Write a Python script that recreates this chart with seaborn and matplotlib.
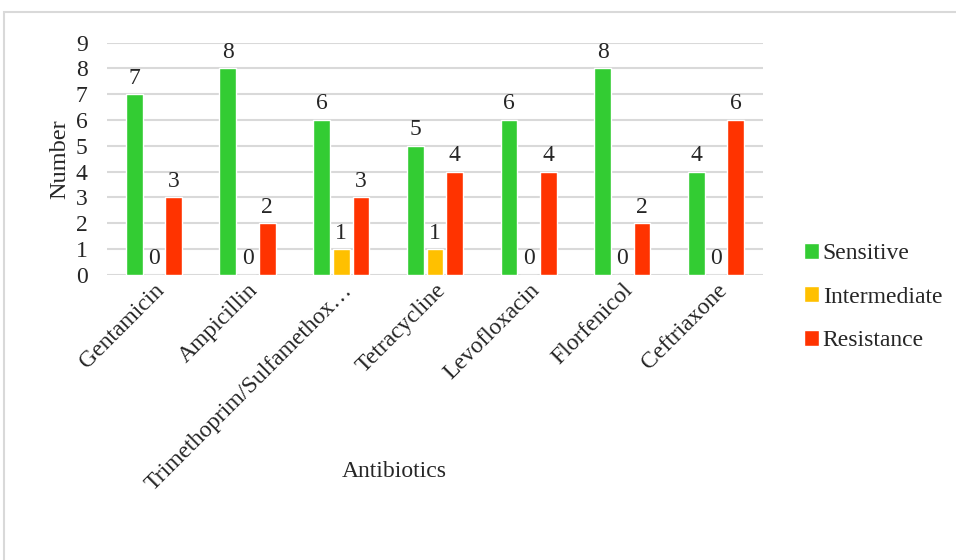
import matplotlib
matplotlib.use("Agg")
from matplotlib import pyplot as plt
from matplotlib.patches import Rectangle
import pandas as pd
import seaborn as sns

antibiotics = ["Gentamicin", "Ampicillin", "Trimethoprim/Sulfamethox\u2026",
               "Tetracycline", "Levofloxacin", "Florfenicol", "Ceftriaxone"]
sensitive = [7, 8, 6, 5, 6, 8, 4]
intermediate = [0, 0, 1, 1, 0, 0, 0]
resistance = [3, 2, 3, 4, 4, 2, 6]
series_names = ["Sensitive", "Intermediate", "Resistance"]
colors = ["#33CC33", "#FFC000", "#FF3300"]

rows = []
for name, vals in zip(series_names, [sensitive, intermediate, resistance]):
    for ab, v in zip(antibiotics, vals):
        rows.append({"Antibiotics": ab, "Status": name, "Number": v})
df = pd.DataFrame(rows)

sns.set_style("white")
plt.rcParams["font.family"] = ["Liberation Serif", "DejaVu Serif"]

fig = plt.figure(figsize=(9.56, 5.6), dpi=100)
ax = fig.add_axes([0.112, 0.509, 0.686, 0.415])

sns.barplot(data=df, x="Antibiotics", y="Number", hue="Status",
            palette=colors, width=0.63, gap=0.14, ax=ax, saturation=1)

for container in ax.containers:
    ax.bar_label(container, fontsize=17, padding=4)

ax.set_ylim(0, 9)
ax.set_yticks(range(10))
ax.yaxis.grid(True, color="#D9D9D9", linewidth=1.5)
ax.set_axisbelow(True)
for s in ax.spines.values():
    s.set_visible(False)
ax.tick_params(axis="both", length=0, labelsize=17)
ax.tick_params(axis="y", pad=14)
plt.setp(ax.get_xticklabels(), rotation=45, ha="right", rotation_mode="anchor")

ax.set_ylabel("Number", fontsize=17.5)
ax.set_xlabel("Antibiotics", fontsize=17)
ax.xaxis.set_label_coords(0.4375, -0.80)

ax.legend(loc="center left", bbox_to_anchor=(1.03, -0.095), frameon=False,
          fontsize=17, handlelength=0.65, handleheight=0.65, handletextpad=0.15,
          labelspacing=0.95)

fig.patches.append(Rectangle((0.0042, -0.02), 1.05, 0.9986, transform=fig.transFigure,
                             fill=False, edgecolor="#D9D9D9", linewidth=1.5))

fig.savefig("out.png", dpi=100)
